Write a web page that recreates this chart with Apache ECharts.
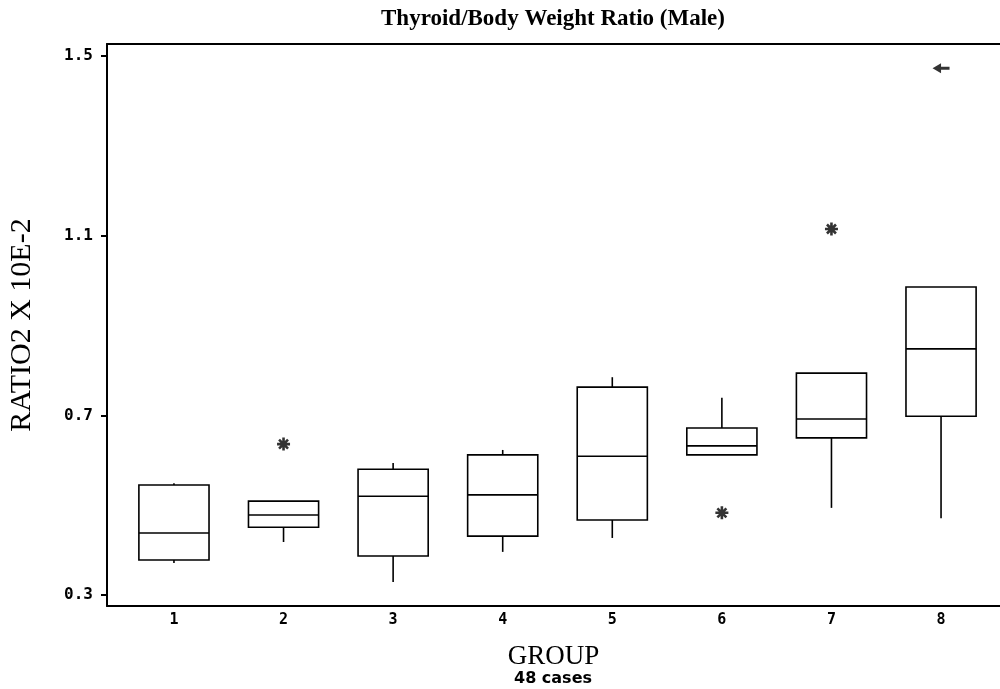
<!DOCTYPE html>
<html>
<head>
<meta charset="utf-8">
<script src="https://cdn.jsdelivr.net/npm/echarts@6/dist/echarts.min.js"></script>
<style>html,body{margin:0;padding:0;background:#fff}#c{width:1000px;height:689px}</style>
</head>
<body>
<div id="c"></div>
<script>
// ---- data ----
const groups  = [1, 2, 3, 4, 5, 6, 7, 8];
const mins    = [0.371, 0.418, 0.329, 0.396, 0.427, 0.612, 0.494, 0.471];
const q1s     = [0.378, 0.451, 0.387, 0.431, 0.467, 0.612, 0.650, 0.698];
const medians = [0.438, 0.478, 0.520, 0.523, 0.609, 0.632, 0.692, 0.848];
const q3s     = [0.545, 0.509, 0.580, 0.612, 0.763, 0.672, 0.794, 0.986];
const maxs    = [0.549, 0.509, 0.594, 0.623, 0.785, 0.739, 0.794, 0.986];
const starGroups = [2, 6, 7];
const starValues = [0.636, 0.483, 1.115];
const farGroups  = [8];
const farValues  = [1.473];
const yTicks = [0.3, 0.7, 1.1, 1.5];

const boxRows = groups.map((g, i) => [g, mins[i], q1s[i], medians[i], q3s[i], maxs[i]]);
const starPts = starGroups.map((g, i) => [g, starValues[i]]);
const farPts  = farGroups.map((g, i) => [g, farValues[i]]);

const BOX_W = 0.64;
const LW = 1.6;
function renderBox(params, api) {
  const x = api.value(0);
  const pMin = api.coord([x, api.value(1)]);
  const pQ1  = api.coord([x, api.value(2)]);
  const pMed = api.coord([x, api.value(3)]);
  const pQ3  = api.coord([x, api.value(4)]);
  const pMax = api.coord([x, api.value(5)]);
  const half = api.size([BOX_W, 0])[0] / 2;
  const cx = pMed[0];
  const st = {stroke: '#000', lineWidth: LW, fill: null};
  const ch = [
    {type: 'rect', shape: {x: cx - half, y: pQ3[1], width: half * 2, height: pQ1[1] - pQ3[1]},
     style: {stroke: '#000', lineWidth: LW, fill: 'rgba(0,0,0,0)'}},
    {type: 'line', shape: {x1: cx - half, y1: pMed[1], x2: cx + half, y2: pMed[1]}, style: st}
  ];
  if (Math.abs(pMax[1] - pQ3[1]) > 0.5)
    ch.push({type: 'line', shape: {x1: cx, y1: pQ3[1], x2: cx, y2: pMax[1]}, style: st});
  if (Math.abs(pMin[1] - pQ1[1]) > 0.5)
    ch.push({type: 'line', shape: {x1: cx, y1: pQ1[1], x2: cx, y2: pMin[1]}, style: st});
  return {type: 'group', children: ch};
}

const starPath = 'path://M-6,-1.2L6,-1.2L6,1.2L-6,1.2Z M-1.2,-6L1.2,-6L1.2,6L-1.2,6Z M-5,-3.3L-3.3,-5L5,3.3L3.3,5Z M3.3,-5L5,-3.3L-3.3,5L-5,3.3Z M-2.5,-2.5L2.5,-2.5L2.5,2.5L-2.5,2.5Z';
const farPath = 'path://M0,5L8,0L8,3.6L16,3.6L16,6.4L8,6.4L8,10Z';

const chart = echarts.init(document.getElementById('c'));
chart.setOption({
  animation: false,
  backgroundColor: '#fff',
  grid: {left: 107, right: 0, top: 44, bottom: 83, outerBoundsMode: 'none'},
  graphic: [
    {type: 'text', x: 553, y: 19, style: {text: 'Thyroid/Body Weight Ratio (Male)', font: 'bold 23px "Liberation Serif"', fill: '#000', textAlign: 'center', textVerticalAlign: 'middle'}},
    {type: 'text', x: 553, y: 679, style: {text: '48 cases', font: 'bold 16px "DejaVu Sans"', fill: '#000', textAlign: 'center', textVerticalAlign: 'middle'}}
  ],
  xAxis: [{
    type: 'value', min: 0.389, max: 8.538, position: 'bottom',
    name: 'GROUP', nameLocation: 'middle', nameGap: 37,
    nameTextStyle: {fontFamily: 'Liberation Serif', fontSize: 27, color: '#000'},
    axisLine: {lineStyle: {color: '#000', width: 2}},
    axisTick: {show: false},
    splitLine: {show: false},
    axisLabel: {customValues: groups, formatter: v => String(Math.round(v)), color: '#000',
      fontFamily: 'DejaVu Sans Mono', fontWeight: 'bold', fontSize: 15, margin: 7}
  }, {
    type: 'value', min: 0.389, max: 8.538, position: 'top',
    axisLine: {show: true, lineStyle: {color: '#000', width: 2}},
    axisTick: {show: false}, axisLabel: {show: false}, splitLine: {show: false}
  }],
  yAxis: {
    type: 'value', min: 0.2755, max: 1.527,
    name: 'RATIO2 X 10E-2', nameLocation: 'middle', nameGap: 70, nameRotate: 90,
    nameTextStyle: {fontFamily: 'Liberation Serif', fontSize: 30, color: '#000'},
    axisLine: {show: true, lineStyle: {color: '#000', width: 2}},
    axisTick: {show: true, customValues: yTicks, length: 6, lineStyle: {color: '#000', width: 2}},
    splitLine: {show: false},
    axisLabel: {customValues: yTicks, formatter: v => v.toFixed(1), color: '#000',
      fontFamily: 'DejaVu Sans Mono', fontWeight: 'bold', fontSize: 16, margin: 14}
  },
  series: [
    {type: 'custom', renderItem: renderBox, data: boxRows, encode: {x: 0, y: [1, 2, 3, 4, 5]}, silent: true},
    {type: 'scatter', data: starPts, symbol: starPath, symbolSize: 13, itemStyle: {color: '#000'}},
    {type: 'scatter', data: farPts, symbol: farPath, symbolSize: [17, 10], itemStyle: {color: '#000'}}
  ]
});
</script>
</body>
</html>
